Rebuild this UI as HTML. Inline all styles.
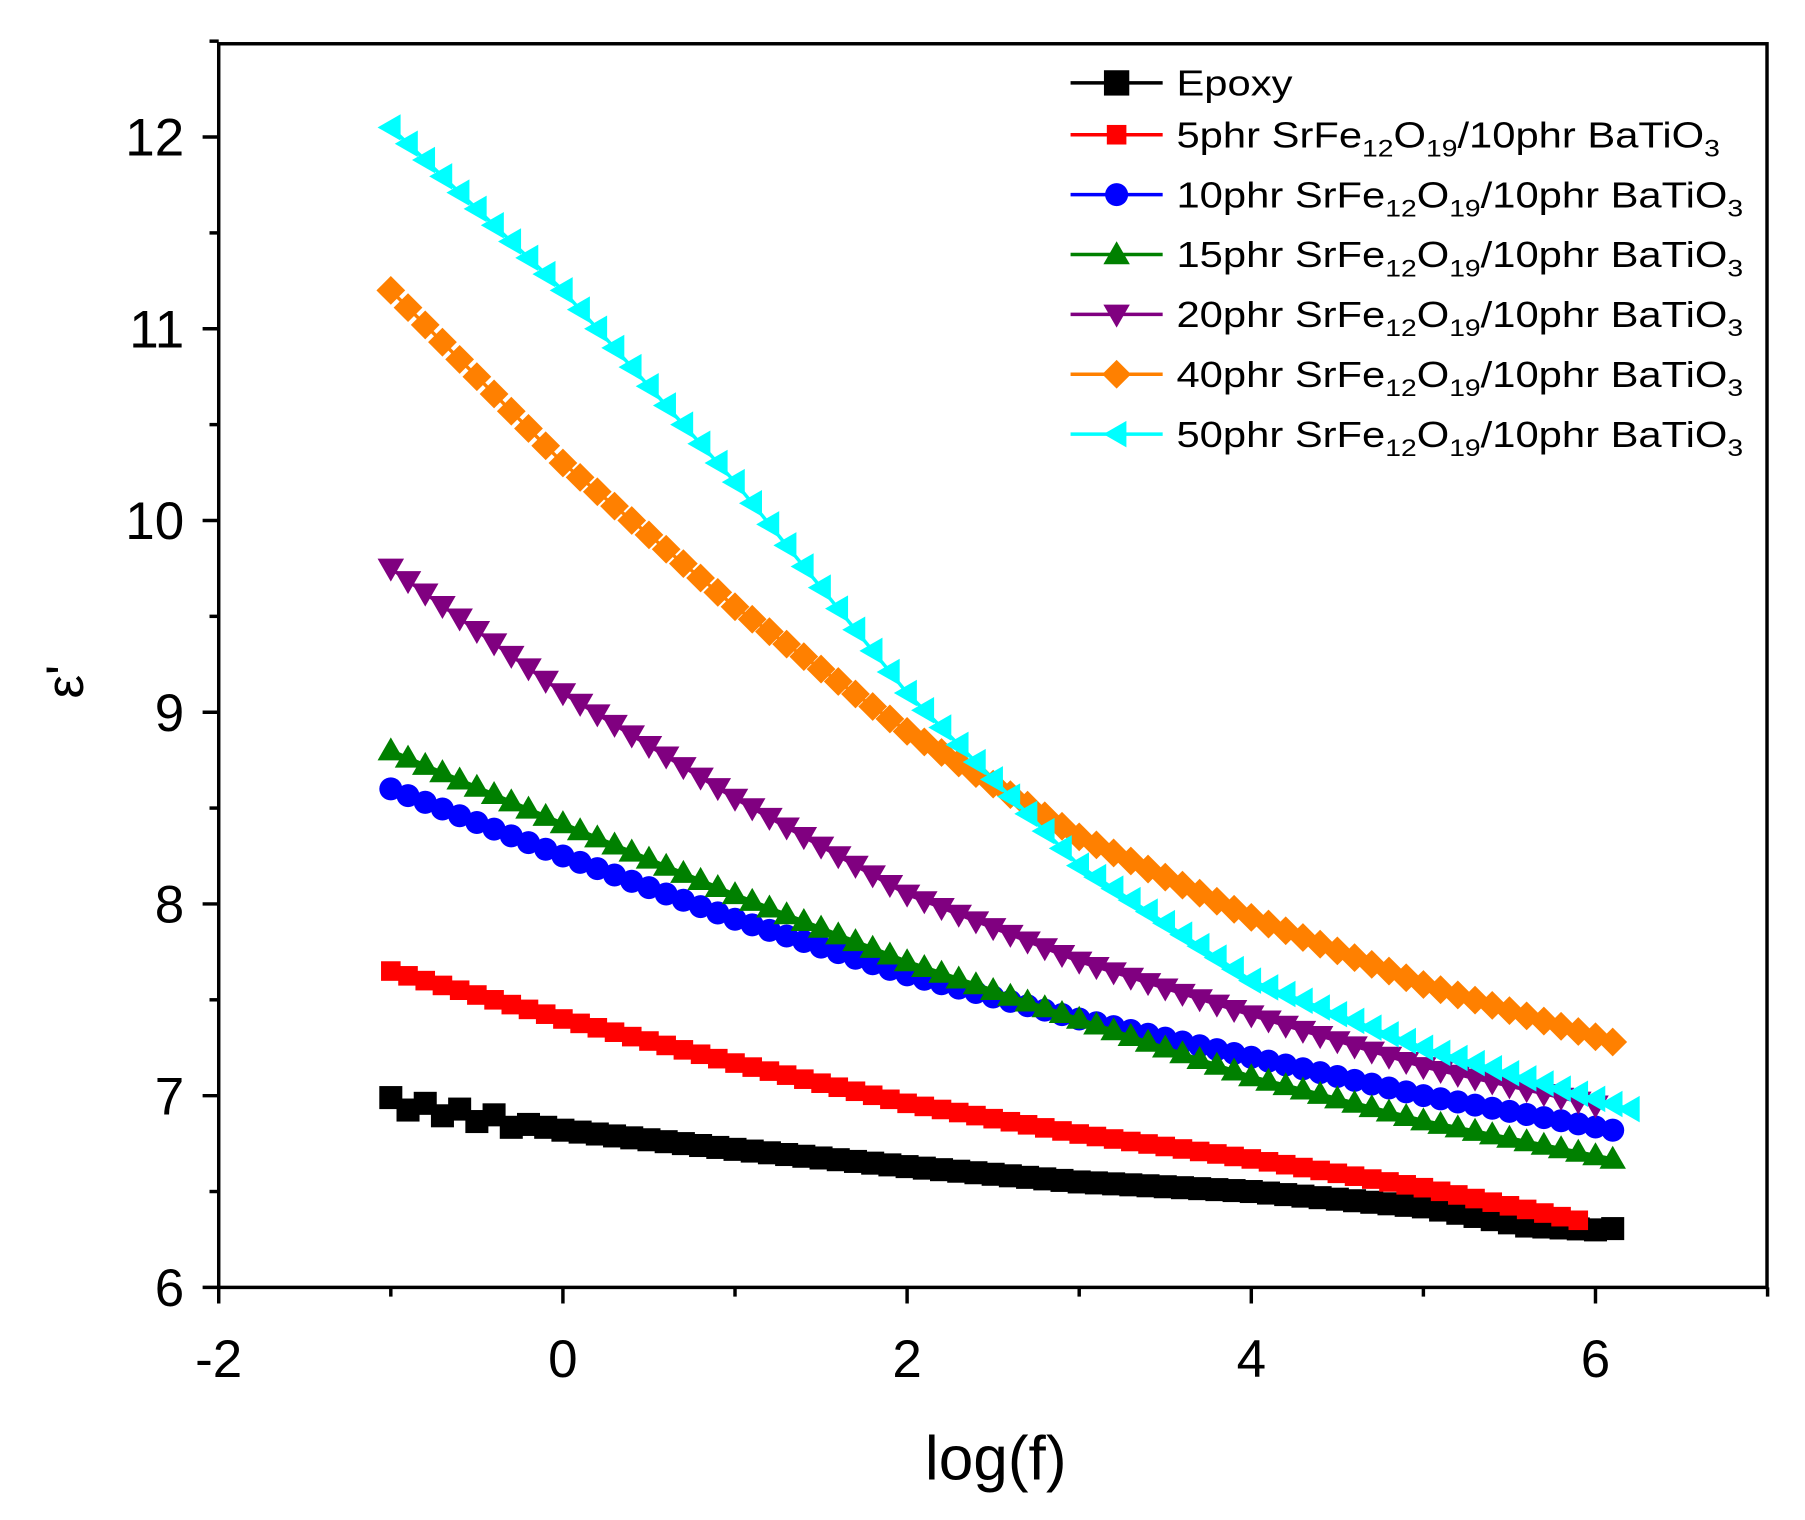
<!DOCTYPE html>
<html><head><meta charset="utf-8"><style>
html,body{margin:0;padding:0;background:#fff;}
svg{display:block;font-family:"Liberation Sans",Arial,sans-serif;}
</style></head><body>
<svg id="s" width="1805" height="1520" viewBox="0 0 1568 1320" preserveAspectRatio="none" xmlns="http://www.w3.org/2000/svg">
<rect x="0" y="0" width="1568" height="1320" fill="#fff"/>
<g id="data"></g>
<rect x="190" y="38" width="1345" height="1080" fill="none" stroke="#000" stroke-width="3"/>
<g id="axes" stroke="#000" stroke-width="3"></g>
<g font-size="46" fill="#000" text-anchor="middle">
<text x="190" y="1196">-2</text><text x="489" y="1196">0</text><text x="788" y="1196">2</text><text x="1087" y="1196">4</text><text x="1386" y="1196">6</text>
</g>
<g font-size="46" fill="#000" text-anchor="end">
<text x="160" y="1134">6</text><text x="160" y="968">7</text><text x="160" y="801">8</text><text x="160" y="635">9</text><text x="160" y="468">10</text><text x="160" y="302">11</text><text x="160" y="135">12</text>
</g>
<text x="865" y="1285" font-size="54" text-anchor="middle">log(f)</text>
<text transform="translate(72,592) rotate(-90)" font-size="46" text-anchor="middle">ε'</text>
<g id="legend" font-size="31" fill="#000"></g>
</svg>
<script>
const NS="http://www.w3.org/2000/svg";
const X=x=>190+149.5*(x+2), Y=y=>1118-166.5*(y-6);
function el(t,a,p){const e=document.createElementNS(NS,t);for(const k in a)e.setAttribute(k,a[k]);p.appendChild(e);return e;}
const ax=document.getElementById('axes');
for(let x=-2;x<=7;x+=1){const L=(x%2===0)?14:8;el('line',{x1:X(x),y1:1118,x2:X(x),y2:1118+L},ax);}
for(let y=6;y<=12.5;y+=0.5){const L=(Math.abs(y-Math.round(y))<1e-6)?14:8;el('line',{x1:190,y1:Y(y),x2:190-L,y2:Y(y)},ax);}
const series=[
 {c:'#000',m:'sq',pts:[[-1,6.97],[0,6.82],[1,6.72],[2,6.63],[3,6.55],[4,6.5],[5,6.42],[5.6,6.32],[6,6.3],[6.15,6.31]],end:6.15},
 {c:'#ff0000',m:'sqs',pts:[[-1,7.65],[0,7.4],[1,7.17],[2,6.96],[3,6.8],[4,6.67],[5,6.52],[5.9,6.35]],end:5.9},
 {c:'#0000ff',m:'ci',pts:[[-1,8.6],[0,8.25],[1,7.92],[2,7.63],[3,7.4],[4,7.2],[5,7.0],[6.1,6.82]],end:6.1},
 {c:'#008000',m:'tu',pts:[[-1,8.8],[0,8.42],[1,8.05],[2,7.7],[3,7.4],[4,7.1],[5,6.87],[6.1,6.67]],end:6.1},
 {c:'#800080',m:'td',pts:[[-1,9.75],[0,9.1],[1,8.55],[2,8.05],[3,7.7],[4,7.42],[5,7.15],[6,6.95]],end:6.0},
 {c:'#ff8000',m:'di',pts:[[-1,11.2],[0,10.3],[1,9.55],[2,8.9],[3,8.35],[4,7.93],[5,7.58],[6.1,7.28]],end:6.1},
 {c:'#00ffff',m:'tl',pts:[[-1,12.05],[0,11.2],[1,10.2],[2,9.1],[3,8.2],[4,7.6],[5,7.25],[6.2,6.93]],end:6.2}
];
function interp(p,x){for(let i=0;i<p.length-1;i++){if(x<=p[i+1][0]+1e-9){const t=(x-p[i][0])/(p[i+1][0]-p[i][0]);return p[i][1]+t*(p[i+1][1]-p[i][1]);}}return p[p.length-1][1];}
function marker(g,m,cx,cy,c,s){
 if(m==='sq')el('rect',{x:cx-s,y:cy-s,width:2*s,height:2*s,fill:c},g);
 else if(m==='sqs')el('rect',{x:cx-s*0.85,y:cy-s*0.85,width:1.7*s,height:1.7*s,fill:c},g);
 else if(m==='ci')el('circle',{cx,cy,r:s,fill:c},g);
 else if(m==='tu')el('polygon',{points:`${cx},${cy-s*1.15} ${cx-s*1.15},${cy+s*0.85} ${cx+s*1.15},${cy+s*0.85}`,fill:c},g);
 else if(m==='td')el('polygon',{points:`${cx},${cy+s*1.15} ${cx-s*1.15},${cy-s*0.85} ${cx+s*1.15},${cy-s*0.85}`,fill:c},g);
 else if(m==='di')el('polygon',{points:`${cx},${cy-s*1.25} ${cx+s*1.25},${cy} ${cx},${cy+s*1.25} ${cx-s*1.25},${cy}`,fill:c},g);
 else if(m==='tl')el('polygon',{points:`${cx-s*1.15},${cy} ${cx+s*0.85},${cy-s*1.15} ${cx+s*0.85},${cy+s*1.15}`,fill:c},g);
}
const dg=document.getElementById('data');
series.forEach((s,si)=>{
 const xs=[];for(let x=-1;x<=s.end+1e-6;x+=0.1)xs.push(x);
 const yv=(x,i)=>{let y=interp(s.pts,x);if(si===0&&x<-0.3)y+=(i%2?-0.03:0.02);return y;};
 let d='';xs.forEach((x,i)=>{d+=(i?'L':'M')+X(x).toFixed(1)+','+Y(yv(x,i)).toFixed(1);});
 el('path',{d,fill:'none',stroke:s.c,'stroke-width':3},dg);
 xs.forEach((x,i)=>{marker(dg,s.m,X(x),Y(yv(x,i)),s.c,si===0?10:10);});
});
const lg=document.getElementById('legend');
const rows=[72,117,169,221,273,325,377];
series.forEach((s,i)=>{
 const y=rows[i];
 el('line',{x1:930,y1:y,x2:1010,y2:y,stroke:s.c,'stroke-width':3},lg);
 marker(lg,s.m,970,y,s.c,i===0?11:10);
 const g=el('g',{transform:`translate(1022,${y+11}) scale(1.17,1)`},lg);
 const t=el('text',{x:0,y:0},g);
 if(i===0){t.textContent='Epoxy';}
 else{
  const n=['5','10','15','20','40','50'][i-1];
  t.innerHTML=`${n}phr SrFe<tspan font-size="21" dy="8">12</tspan><tspan dy="-8">O</tspan><tspan font-size="21" dy="8">19</tspan><tspan dy="-8">/10phr BaTiO</tspan><tspan font-size="21" dy="8">3</tspan>`;
 }
});
</script>
</body></html>
